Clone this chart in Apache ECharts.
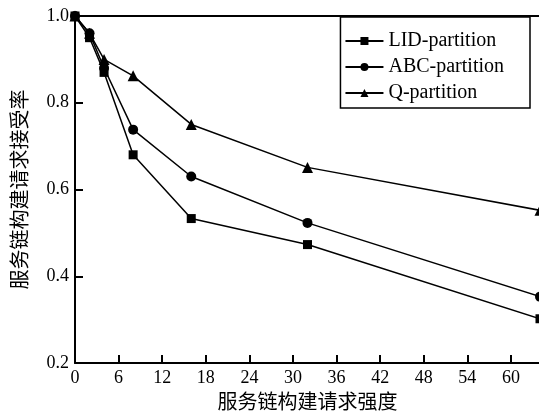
<!DOCTYPE html>
<html>
<head>
<meta charset="utf-8">
<script src="https://cdn.jsdelivr.net/npm/echarts@6/dist/echarts.min.js"></script>
<style>
  html, body { margin: 0; padding: 0; background: #fff; }
  #chart { width: 539px; height: 413px; }
</style>
</head>
<body>
<div id="chart"></div>
<script>
  // 服务链构建请求强度
  var xValues = [0, 2, 4, 8, 16, 32, 64];
  var lidValues = [1.0, 0.95, 0.87, 0.68, 0.533, 0.473, 0.302];
  var abcValues = [1.0, 0.96, 0.88, 0.738, 0.63, 0.523, 0.353];
  var qValues = [1.0, 0.96, 0.90, 0.862, 0.75, 0.651, 0.552];

  var serif = '"Liberation Serif", "Times New Roman", serif';
  var cjk = '"Noto Sans CJK SC", sans-serif';

  function pairs(ys) {
    return xValues.map(function (x, i) { return [x, ys[i]]; });
  }

  function makeSeries(name, ys, symbol, size) {
    return {
      name: name,
      type: 'line',
      data: pairs(ys),
      symbol: symbol,
      symbolSize: size,
      showAllSymbol: true,
      clip: false,
      lineStyle: { color: '#000', width: 1.5 },
      itemStyle: { color: '#000' },
      animation: false
    };
  }

  var chart = echarts.init(document.getElementById('chart'));
  chart.setOption({
    animation: false,
    backgroundColor: '#fff',
    grid: { left: 75, top: 16, right: -1, bottom: 50, outerBoundsMode: 'none', containLabel: false },
    legend: {
      right: 9,
      top: 17,
      orient: 'vertical',
      itemWidth: 38,
      itemHeight: 10,
      itemGap: 6,
      padding: [14, 26, 5, 4],
      borderColor: '#000',
      borderWidth: 1.5,
      textStyle: { fontFamily: serif, fontSize: 20, color: '#000' },
      data: ['LID-partition', 'ABC-partition', 'Q-partition']
    },
    xAxis: [{
      type: 'value',
      min: 0,
      max: 64,
      interval: 6,
      name: '服务链构建请求强度',
      nameLocation: 'middle',
      nameGap: 28,
      nameTextStyle: { fontFamily: cjk, fontSize: 20, color: '#000' },
      axisLine: { lineStyle: { color: '#000', width: 2 } },
      axisTick: { inside: true, length: 8, lineStyle: { color: '#000', width: 2 } },
      axisLabel: { fontFamily: serif, fontSize: 18, color: '#000', margin: 6, showMaxLabel: false },
      splitLine: { show: false }
    }, {
      type: 'value',
      position: 'top',
      min: 0,
      max: 64,
      axisLine: { show: true, onZero: false, lineStyle: { color: '#000', width: 2 } },
      axisTick: { show: false },
      axisLabel: { show: false },
      splitLine: { show: false }
    }],
    yAxis: {
      type: 'value',
      min: 0.2,
      max: 1.0,
      interval: 0.2,
      name: '服务链构建请求接受率',
      nameLocation: 'middle',
      nameGap: 46,
      nameRotate: 90,
      nameTextStyle: { fontFamily: cjk, fontSize: 20, color: '#000' },
      axisLine: { show: true, lineStyle: { color: '#000', width: 2 } },
      axisTick: { show: true, inside: true, length: 8, lineStyle: { color: '#000', width: 2 } },
      axisLabel: {
        fontFamily: serif, fontSize: 18, color: '#000', margin: 6,
        formatter: function (v) { return v.toFixed(1); }
      },
      splitLine: { show: false }
    },
    series: [
      makeSeries('LID-partition', lidValues, 'rect', 9),
      makeSeries('ABC-partition', abcValues, 'circle', 10),
      makeSeries('Q-partition', qValues, 'triangle', 11)
    ]
  });
</script>
</body>
</html>
